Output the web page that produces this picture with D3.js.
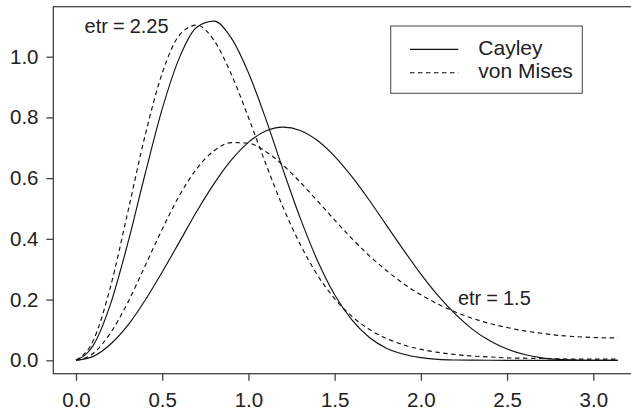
<!DOCTYPE html>
<html>
<head>
<meta charset="utf-8">
<script src="https://cdn.jsdelivr.net/npm/d3@7"></script>
<style>
  html, body { margin: 0; padding: 0; background: #fff; }
  svg { display: block; }
  text { font-family: "Liberation Sans", Arial, Helvetica, sans-serif; fill: #222; }
</style>
</head>
<body>
<svg id="chart" width="631" height="412"></svg>
<script>
// ---- data ----
const angles = [0, 0.1, 0.2, 0.3, 0.4, 0.5, 0.6, 0.7, 0.8, 0.9, 1.0, 1.1, 1.2, 1.3, 1.4, 1.5,
                1.6, 1.7, 1.8, 1.9, 2.0, 2.1, 2.2, 2.3, 2.4, 2.5, 2.6, 2.7, 2.8, 2.9, 3.0, 3.1, 3.1416];

const cayleyEtr225 = [0, 0.049, 0.185, 0.385, 0.612, 0.828, 0.997, 1.097, 1.117, 1.062, 0.947, 0.796,
                      0.629, 0.469, 0.329, 0.216, 0.133, 0.076, 0.040, 0.020, 0.009, 0.003, 0.001,
                      0.0004, 0.0001, 0, 0, 0, 0, 0, 0, 0, 0];
const vonMisesEtr225 = [0, 0.065, 0.242, 0.487, 0.739, 0.946, 1.071, 1.104, 1.054, 0.943, 0.800, 0.648,
                        0.505, 0.382, 0.281, 0.203, 0.145, 0.102, 0.072, 0.051, 0.036, 0.026, 0.019,
                        0.014, 0.011, 0.008, 0.007, 0.006, 0.005, 0.004, 0.004, 0.004, 0.004];
const cayleyEtr15 = [0, 0.013, 0.053, 0.115, 0.197, 0.291, 0.390, 0.490, 0.581, 0.659, 0.718, 0.755,
                     0.768, 0.757, 0.724, 0.672, 0.605, 0.528, 0.445, 0.363, 0.284, 0.213, 0.152,
                     0.102, 0.064, 0.037, 0.019, 0.008, 0.003, 0.001, 0.0001, 0, 0];
const vonMisesEtr15 = [0, 0.023, 0.090, 0.190, 0.310, 0.432, 0.543, 0.631, 0.690, 0.717, 0.715, 0.688,
                       0.643, 0.587, 0.525, 0.462, 0.401, 0.345, 0.296, 0.252, 0.216, 0.185, 0.159,
                       0.138, 0.121, 0.108, 0.097, 0.089, 0.082, 0.078, 0.075, 0.074, 0.074];

const xTicks = [0, 0.5, 1.0, 1.5, 2.0, 2.5, 3.0];
const yTicks = [0, 0.2, 0.4, 0.6, 0.8, 1.0];
const legendLabels = ["Cayley", "von Mises"];
const annotations = [
  { label: "etr", value: "2.25", x: 0.05, y: 1.077 },
  { label: "etr", value: "1.5",  x: 2.215, y: 0.182 }
];

// ---- layout ----
const svg = d3.select("#chart");
const frame = { left: 53.3, top: 6.7, bottom: 373.7, right: 640 };
const x = d3.scaleLinear().domain([0, 3]).range([76, 593.3]);
const y = d3.scaleLinear().domain([0, 1]).range([360.3, 56.7]);

const axisColor = "#444";

// frame (right edge is off the picture)
svg.append("rect")
  .attr("x", frame.left).attr("y", frame.top)
  .attr("width", frame.right - frame.left).attr("height", frame.bottom - frame.top)
  .attr("fill", "none").attr("stroke", axisColor).attr("stroke-width", 1.3);

// x axis
const gx = svg.append("g")
  .attr("transform", `translate(0,${frame.bottom})`)
  .call(d3.axisBottom(x).tickValues(xTicks).tickFormat(d3.format(".1f")).tickSize(7).tickPadding(11.4));
gx.select(".domain").remove();
gx.selectAll(".tick line").attr("stroke", axisColor).attr("stroke-width", 1.3);
gx.selectAll(".tick text").style("font-size", "20.5px").attr("fill", "#222")
  .style("font-family", '"Liberation Sans", Arial, sans-serif');

// y axis
const gy = svg.append("g")
  .attr("transform", `translate(${frame.left},0)`)
  .call(d3.axisLeft(y).tickValues(yTicks).tickFormat(d3.format(".1f")).tickSize(7).tickPadding(7.8));
gy.select(".domain").remove();
gy.selectAll(".tick line").attr("stroke", axisColor).attr("stroke-width", 1.3);
gy.selectAll(".tick text").style("font-size", "20.5px").attr("fill", "#222")
  .style("font-family", '"Liberation Sans", Arial, sans-serif');

// curves
const line = d3.line()
  .x((d, i) => x(angles[i]))
  .y(d => y(d))
  .curve(d3.curveMonotoneX);

const series = [
  { values: cayleyEtr225, dash: null },
  { values: vonMisesEtr225, dash: "4.5,3.5" },
  { values: cayleyEtr15, dash: null },
  { values: vonMisesEtr15, dash: "4.5,3.5" }
];

svg.append("g").selectAll("path")
  .data(series)
  .join("path")
  .attr("d", d => line(d.values))
  .attr("fill", "none")
  .attr("stroke", "#111")
  .attr("stroke-width", 1.15)
  .attr("stroke-dasharray", d => d.dash);

// annotations
annotations.forEach(a => {
  const t = svg.append("text")
    .attr("x", x(a.x)).attr("y", y(a.y))
    .style("font-size", "20px");
  t.append("tspan").text(a.label);
  t.append("tspan").attr("dx", 5).text("=");
  t.append("tspan").attr("dx", 5).text(a.value);
});

// legend
const lg = svg.append("g");
lg.append("rect")
  .attr("x", 390.7).attr("y", 26).attr("width", 191.6).attr("height", 67.3)
  .attr("fill", "#fff").attr("stroke", "#555").attr("stroke-width", 1.1);
const legendRows = [
  { label: legendLabels[0], dash: null, ly: 49.3, ty: 55.2 },
  { label: legendLabels[1], dash: "4.5,3.5", ly: 72.7, ty: 77.8 }
];
legendRows.forEach(r => {
  lg.append("line")
    .attr("x1", 410).attr("x2", 458.3).attr("y1", r.ly).attr("y2", r.ly)
    .attr("stroke", "#111").attr("stroke-width", 1.15)
    .attr("stroke-dasharray", r.dash);
  lg.append("text")
    .attr("x", 478.3).attr("y", r.ty)
    .style("font-size", "21px")
    .text(r.label);
});
</script>
</body>
</html>
